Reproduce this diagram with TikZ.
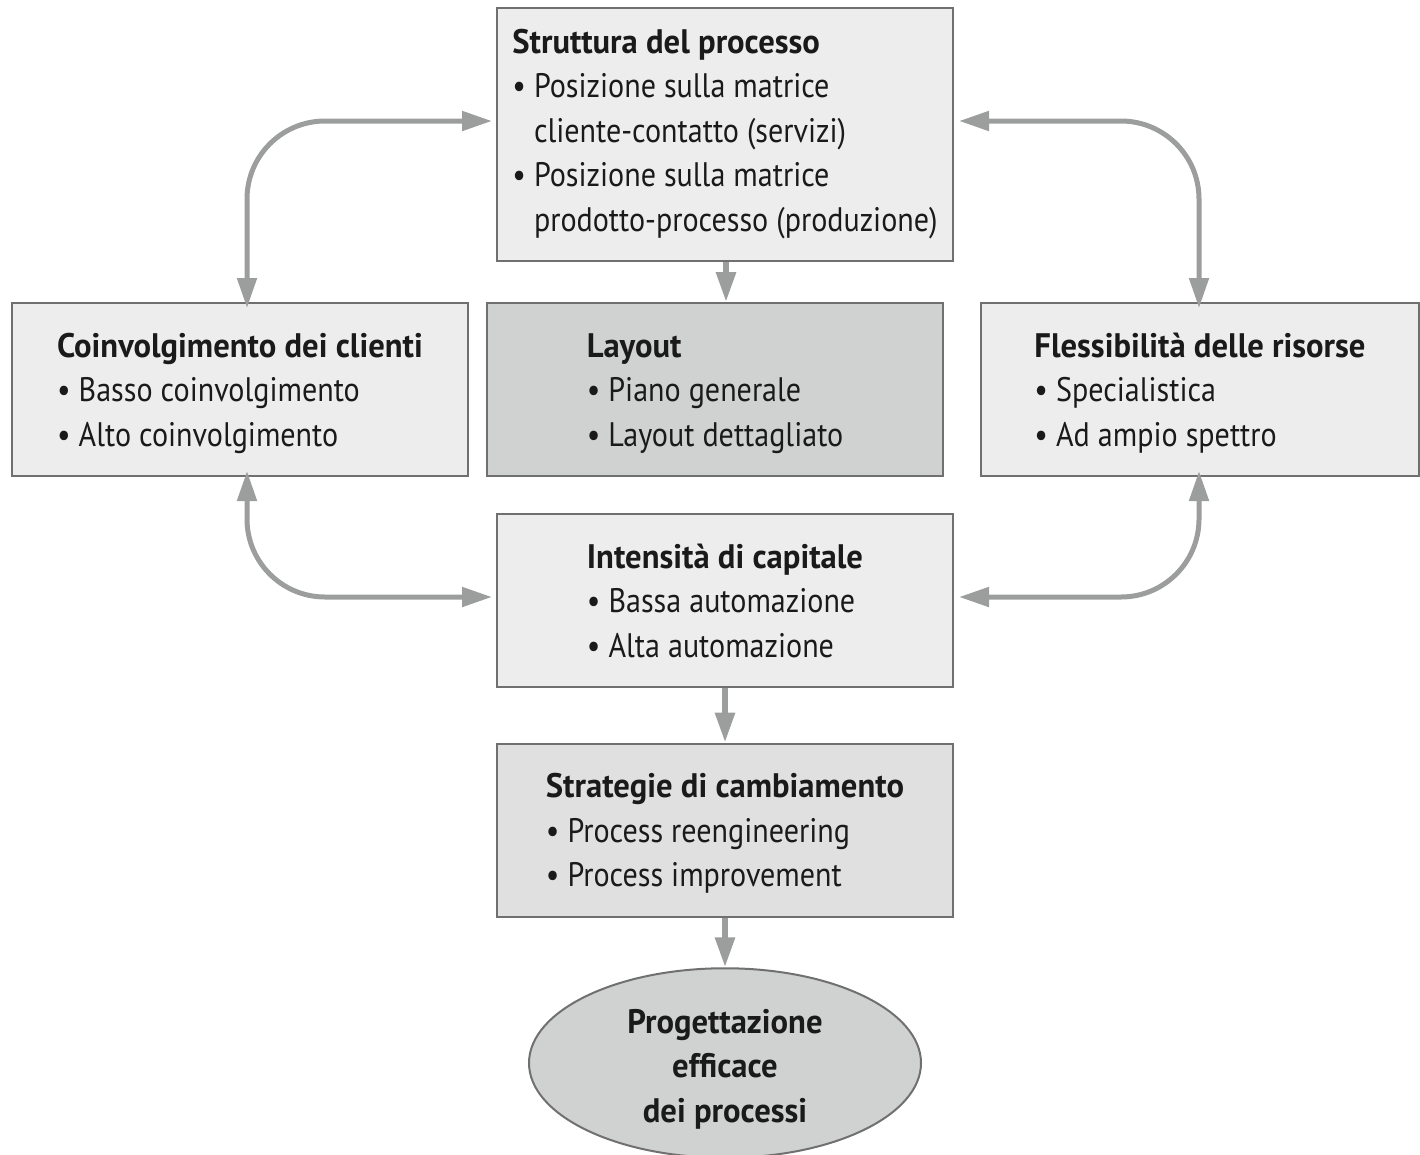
\documentclass[tikz,border=0pt]{standalone}
\usepackage{fontspec}
\setmainfont{PT Sans}[FakeStretch=0.885, BoldFeatures={FakeStretch=0.96}]
\usetikzlibrary{arrows.meta,shapes.geometric}

\definecolor{boxline}{HTML}{707070}
\definecolor{boxlight}{HTML}{EDEDED}
\definecolor{boxmid}{HTML}{E0E0E0}
\definecolor{boxdark}{HTML}{D0D1D1}
\definecolor{arrowgray}{HTML}{9C9D9D}
\definecolor{ink}{HTML}{1A1A1A}

\tikzset{
  stage/.style={draw=boxline, line width=2pt, fill=boxlight, rectangle,
    minimum width=456pt, minimum height=173pt, inner sep=0pt,
    text height=121pt, text depth=8pt,
    align=left, text=ink, font=\fontsize{34}{44.5}\selectfont},
  flowarrow/.style={draw=arrowgray, line width=6pt,
    -{Triangle[length=30pt,width=19pt]}},
  loop/.style={draw=arrowgray, line width=5pt, rounded corners=78pt,
    {Triangle[length=30pt,width=19pt]}-{Triangle[length=30pt,width=19pt]}},
  goal/.style={draw=boxline, line width=2pt, fill=boxdark, ellipse,
    minimum width=392pt, minimum height=180pt, inner sep=0pt,
    text height=126pt, text depth=8pt,
    align=center, text=ink, font=\fontsize{34}{44.5}\selectfont\bfseries}
}
\newcommand{\itm}{\textbullet\ }
\newcommand{\ind}{\phantom{\textbullet\ }}

\begin{document}
\begin{tikzpicture}[x=1pt,y=-1pt]
  \useasboundingbox (0,0) rectangle (1420,1154);

  \node[stage, minimum height=253pt, text height=201pt] (struct) at (725,134.5)
    {\textbf{Struttura del processo}\\
     \itm Posizione sulla matrice\\
     \ind cliente-contatto (servizi)\\
     \itm Posizione sulla matrice\\
     \ind prodotto-processo (produzione)};

  \node[stage] (client) at (240,389.5)
    {\textbf{Coinvolgimento dei clienti}\\
     \itm Basso coinvolgimento\\
     \itm Alto coinvolgimento};

  \node[stage, fill=boxdark] (layout) at (715,389.5)
    {\textbf{Layout}\\
     \itm Piano generale\\
     \itm Layout dettagliato};

  \node[stage, minimum width=438pt] (flex) at (1200,389.5)
    {\textbf{Flessibilità delle risorse}\\
     \itm Specialistica\\
     \itm Ad ampio spettro};

  \node[stage] (capital) at (725,600.5)
    {\textbf{Intensità di capitale}\\
     \itm Bassa automazione\\
     \itm Alta automazione};

  \node[stage, fill=boxmid] (change) at (725,830)
    {\textbf{Strategie di cambiamento}\\
     \itm Process reengineering\\
     \itm Process improvement};

  \node[goal] (design) at (725,1063)
    {Progettazione\\efficace\\dei processi};

  % straight flow
  \coordinate (s1) at ([xshift=11pt]layout.north);
  \draw[flowarrow] (s1 |- struct.south) -- (s1);
  \draw[flowarrow] (capital.south) -- (change.north);
  \draw[flowarrow] (change.south) -- (design.north);

  % mutual links through the side boxes
  \draw[loop] ([xshift=7pt,yshift=-6pt]client.north) |- ([xshift=-4pt]struct.west |- 0,121);
  \draw[loop] ([xshift=-1pt,yshift=-6pt]flex.north) |- ([xshift=5pt]struct.east |- 0,121);
  \draw[loop] ([xshift=7pt,yshift=6pt]client.south) |- ([xshift=-4pt]capital.west |- 0,597);
  \draw[loop] ([xshift=-1pt,yshift=6pt]flex.south) |- ([xshift=5pt]capital.east |- 0,597);
\end{tikzpicture}
\end{document}
